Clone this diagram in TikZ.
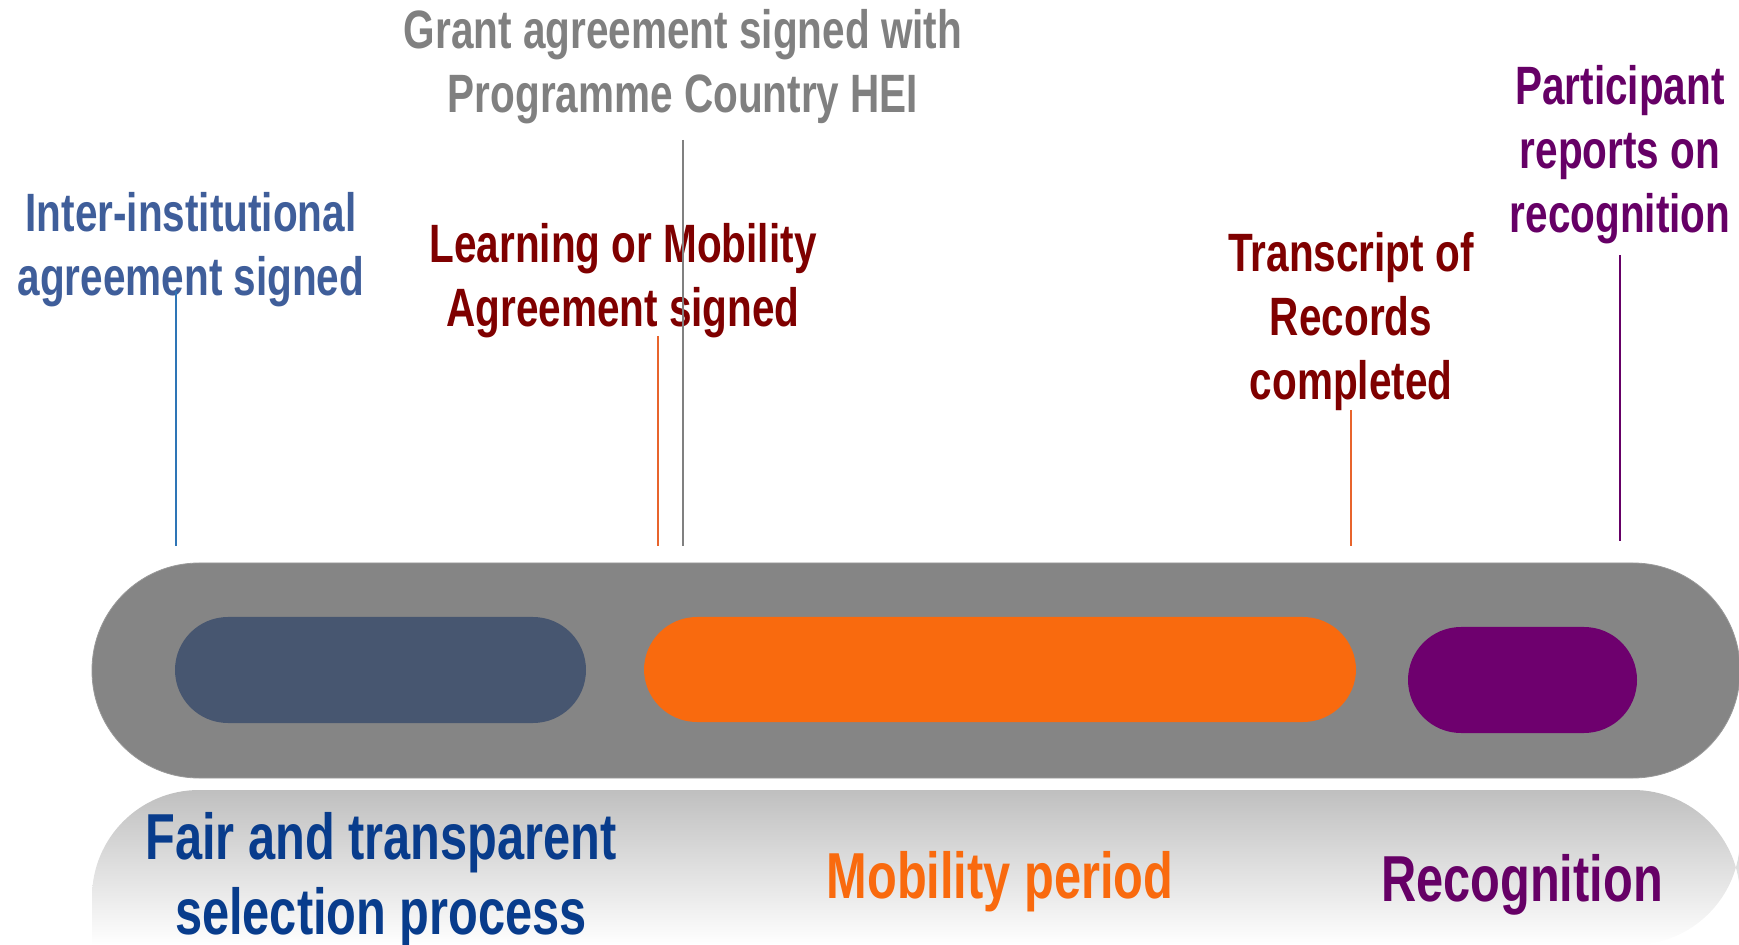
\documentclass[tikz,border=0pt]{standalone}
\usepackage{fontspec}
\setmainfont{Liberation Sans}[FakeStretch=0.75]
\usetikzlibrary{positioning}

\definecolor{iiablue}{HTML}{3F5E9A}
\definecolor{linkblue}{HTML}{2E75B6}
\definecolor{grantgray}{HTML}{808080}
\definecolor{darkred}{HTML}{7F0000}
\definecolor{tickorange}{HTML}{E8642C}
\definecolor{recpurple}{HTML}{660066}
\definecolor{selblue}{HTML}{083C8C}
\definecolor{mobiorange}{HTML}{F96A0E}
\definecolor{slate}{HTML}{475670}
\definecolor{trackgray}{HTML}{858585}

\tikzset{
  milestone/.style={align=center, font=\bfseries\fontsize{27}{32}\selectfont},
  phase/.style={align=center, font=\bfseries\fontsize{32.5}{37.5}\selectfont},
  tick/.style={line width=1pt},
}

\begin{document}
\begin{tikzpicture}[x=0.5pt, y=-0.5pt]
    \useasboundingbox (0,0) rectangle (1739,945);

    % reflection under the track
    \shade[top color=black!25, bottom color=white]
      (92,945) [rounded corners=53.5pt] -- (92,790) -- (1740,790) -- (1740,945) [sharp corners] -- cycle;

    % track and phases
    \draw[fill=trackgray, draw=gray!80, rounded corners=53.5pt] (92,563) rectangle (1740,778);
    \fill[slate, rounded corners=26.5pt] (175,617) rectangle (586,723);
    \fill[mobiorange, rounded corners=26.5pt] (644,617) rectangle (1356,722);
    \fill[recpurple!95!magenta, rounded corners=26.5pt] (1408,627) rectangle (1637,733);

    % milestones
    \node[milestone, grantgray] (grant) at (683,67) {Grant agreement signed with\\Programme Country HEI};
    \node[milestone, iiablue] (iia) at (191,250) {Inter-institutional\\agreement signed};
    \node[milestone, darkred] (la) at (623,281) {Learning or Mobility\\Agreement signed};
    \node[milestone, darkred] (tor) at (1351,322) {Transcript of\\Records\\completed};
    \node[milestone, recpurple] (report) at (1620,155) {Participant\\reports on\\recognition};

    \coordinate (iia top) at (176,291);   \coordinate (iia foot) at (176,546);
    \coordinate (grant top) at (683,140); \coordinate (grant foot) at (683,546);
    \coordinate (la top) at (658,336);    \coordinate (la foot) at (658,546);
    \coordinate (tor top) at (1351,410);  \coordinate (tor foot) at (1351,546);
    \coordinate (rep top) at (1620,255);  \coordinate (rep foot) at (1620,541);

    \draw[tick, linkblue] (iia top) -- (iia foot);
    \draw[tick, grantgray] (grant top) -- (grant foot);
    \draw[tick, tickorange] (la top) -- (la foot);
    \draw[tick, tickorange] (tor top) -- (tor foot);
    \draw[tick, recpurple] (rep top) -- (rep foot);

    % phase names
    \node[phase, selblue] (selection) at (381,880) {Fair and transparent\\selection process};
    \node[phase, mobiorange] (mobility) at (1000,882) {Mobility period};
    \node[phase, recpurple] (recognition) at (1522,885) {Recognition};
\end{tikzpicture}
\end{document}
